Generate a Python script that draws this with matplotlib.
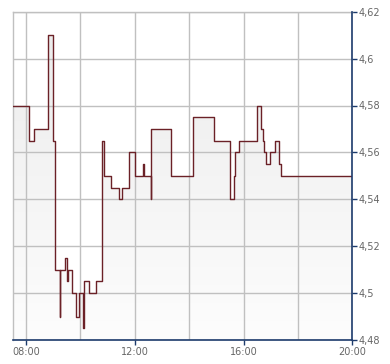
import matplotlib
matplotlib.use("Agg")
import matplotlib.pyplot as plt
import numpy as np
from matplotlib.ticker import FuncFormatter, FixedLocator
from matplotlib.colors import LinearSegmentedColormap

# step-change times (HH:MM) and the price that starts at each time
times = ["07:32", "08:07", "08:18", "08:49", "09:00", "09:03", "09:15", "09:16",
         "09:26", "09:31", "09:32", "09:42", "09:50", "09:58", "10:05", "10:09",
         "10:20", "10:34", "10:47", "10:53", "11:08", "11:26", "11:32", "11:48",
         "12:01", "12:19", "12:20", "12:35", "12:36", "13:21", "14:09", "14:54",
         "15:30", "15:39", "15:42", "15:50", "16:29", "16:38", "16:42", "16:45",
         "16:49", "16:58", "17:09", "17:18", "17:22", "20:00"]
prices = [4.58, 4.565, 4.57, 4.61, 4.565, 4.51, 4.49, 4.51,
          4.515, 4.505, 4.51, 4.50, 4.49, 4.50, 4.485, 4.505,
          4.50, 4.505, 4.565, 4.55, 4.545, 4.54, 4.545, 4.56,
          4.55, 4.555, 4.55, 4.54, 4.57, 4.55, 4.575, 4.565,
          4.54, 4.55, 4.56, 4.565, 4.58, 4.57, 4.565, 4.56,
          4.555, 4.56, 4.565, 4.555, 4.55, 4.55]
x_ticks = ["08:00", "12:00", "16:00", "20:00"]
y_ticks = [4.48, 4.50, 4.52, 4.54, 4.56, 4.58, 4.60, 4.62]

def to_h(s):
    h, m = s.split(":")
    return int(h) + int(m) / 60.0

t = np.array([to_h(s) for s in times])
p = np.array(prices)

W, H = 390, 364
fig = plt.figure(figsize=(W / 100, H / 100), dpi=100)
ax = fig.add_axes([13.3 / W, (H - 340) / H, (352.3 - 13.3) / W, (340 - 11.7) / H])

x0, x1 = t[0], 20.0
y0, y1 = 4.48, 4.62
ax.set_xlim(x0, x1)
ax.set_ylim(y0, y1)

# gradient fill under the step line
poly = ax.fill_between(t, p, y0, step="post", color="none", lw=0, zorder=1)
cmap = LinearSegmentedColormap.from_list("g", ["#fdfdfd", "#ebebeb"])
grad = np.linspace(0, 1, 256).reshape(-1, 1)
im = ax.imshow(grad, extent=[x0, x1, y0, y1], origin="lower", aspect="auto",
               cmap=cmap, zorder=1, interpolation="bilinear")
im.set_clip_path(poly.get_paths()[0], transform=ax.transData)

# grid
for v in y_ticks:
    ax.axhline(v, color="#c0c0c0", lw=1, zorder=2)
for hh in range(8, 21, 2):
    ax.axvline(hh, color="#c0c0c0", lw=1, zorder=2)

ax.step(t, p, where="post", color="#6b2127", lw=1.0, zorder=3)

for side in ["left", "top"]:
    ax.spines[side].set_color("#c0c0c0")
    ax.spines[side].set_linewidth(1)
for side in ["right", "bottom"]:
    ax.spines[side].set_color("#1d3b6c")
    ax.spines[side].set_linewidth(1.2)
    ax.spines[side].set_zorder(4)

ax.xaxis.set_major_locator(FixedLocator([to_h(s) for s in x_ticks]))
ax.set_xticklabels(x_ticks)
ax.yaxis.set_major_locator(FixedLocator(y_ticks))
ax.yaxis.tick_right()

def yfmt(v, pos):
    s = ("%.2f" % v).rstrip("0").rstrip(".")
    return s.replace(".", ",")
ax.yaxis.set_major_formatter(FuncFormatter(yfmt))

ax.tick_params(axis="y", which="both", right=True, left=False, direction="out",
               length=3.5, width=1, color="#1d3b6c", labelsize=7,
               labelcolor="#666666", pad=1)
ax.tick_params(axis="x", direction="out", length=3.5, width=1, color="#1d3b6c",
               labelsize=7, labelcolor="#666666", pad=1.5)

fig.savefig("out.png", dpi=100)
